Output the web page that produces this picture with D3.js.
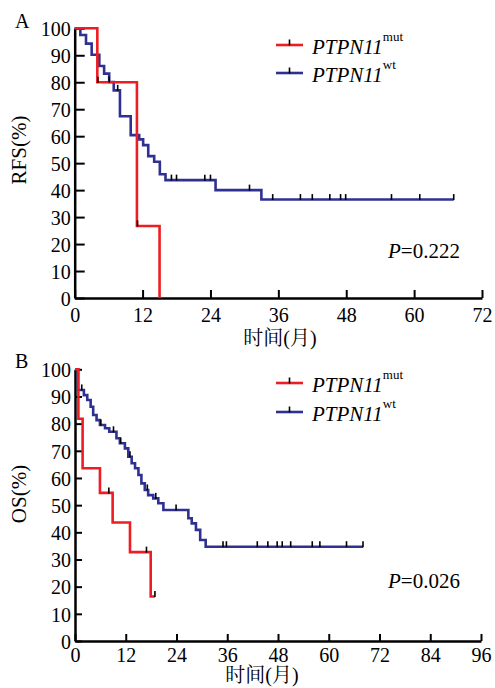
<!DOCTYPE html>
<html>
<head>
<meta charset="utf-8">
<script src="https://cdn.jsdelivr.net/npm/d3@7"></script>
<style>
  html, body { margin: 0; padding: 0; background: #fff; }
  svg { display: block; }
</style>
</head>
<body>
<svg id="chart" width="495" height="688"></svg>
<script>
// ---------------- data ----------------
const survivalTicks = [0, 10, 20, 30, 40, 50, 60, 70, 80, 90, 100];
const monthTicksA = [0, 12, 24, 36, 48, 60, 72];
const monthTicksB = [0, 12, 24, 36, 48, 60, 72, 84, 96];
const panelLabels = ["A", "B"];
const yTitles = ["RFS(%)", "OS(%)"];
const xTitleParts = ["时间", "(", "月", ")"];
const seriesNames = ["PTPN11", "PTPN11"];
const seriesSups = ["mut", "wt"];
const pValues = ["0.222", "0.026"];

// Panel A (RFS) - mutant
const rfsMutTimes = [0, 4.0, 11.0, 15.0];
const rfsMutSurv  = [100, 80, 26.7, 0];
const rfsMutEnd = 15.0;
const rfsMutCensor = [4.1, 11.1];
// Panel A (RFS) - wild type
const rfsWtTimes = [0, 1.0, 2.0, 3.0, 4.35, 5.2, 6.1, 6.9, 8.0, 9.9, 11.4, 12.1, 13.0, 14.05, 15.05, 16.05, 24.9, 33.0];
const rfsWtSurv  = [100, 97.5, 94.3, 90.2, 86.0, 83.2, 80.1, 77.0, 67.4, 60.4, 58.8, 56.7, 52.6, 50.5, 45.9, 43.7, 40.0, 36.5];
const rfsWtEnd = 67.0;
const rfsWtCensor = [6.1, 7.6, 17.1, 18.0, 23.0, 24.0, 30.9, 35.0, 39.9, 42.0, 45.1, 47.0, 47.9, 56.0, 61.0, 67.0];

// Panel B (OS) - mutant
const osMutTimes = [0, 0.8, 1.8, 5.9, 8.9, 13.0, 17.9];
const osMutSurv  = [100, 81.8, 63.6, 54.5, 43.6, 32.7, 16.4];
const osMutEnd = 18.9;
const osMutCensor = [8.0, 16.9, 18.9];
// Panel B (OS) - wild type
const osWtTimes = [0, 0.7, 2.1, 2.9, 3.7, 4.3, 5.1, 5.9, 7.1, 8.1, 9.8, 10.6, 11.8, 12.6, 13.4, 14.2, 15.0, 15.7, 16.5, 17.3, 18.5, 19.7, 20.9, 26.8, 27.6, 28.6, 29.6, 30.9];
const osWtSurv  = [100, 92.4, 90.5, 88.7, 86.2, 83.2, 81.3, 79.5, 78.3, 77.0, 74.6, 72.8, 70.9, 67.8, 65.4, 63.6, 61.1, 58.0, 55.6, 53.7, 52.5, 50.7, 48.2, 45.2, 43.3, 40.9, 37.2, 34.7];
const osWtEnd = 68.1;
const osWtCensor = [1.6, 6.1, 9.1, 10.8, 13.0, 17.1, 19.1, 23.9, 35.0, 35.8, 43.1, 45.6, 47.8, 49.0, 51.0, 56.1, 57.9, 64.2, 68.1];

// ---------------- styles ----------------
const RED = "#ee1d23";
const BLUE = "#2e3192";
const SERIF = "'Liberation Serif'";
const CJK = "'Noto Serif CJK SC'";

const svg = d3.select("#chart");

function serifText(sel, size) {
  return sel.attr("font-family", "Liberation Serif").style("font-family", SERIF)
    .style("font-size", size + "px").attr("fill", "#000");
}
function stepData(times, surv, end) {
  const pts = times.map((t, i) => ({ t, s: surv[i] }));
  const last = pts[pts.length - 1];
  if (end > last.t) pts.push({ t: end, s: last.s });
  return pts;
}
function survAt(times, surv, c) {
  let v = surv[0];
  for (let i = 0; i < times.length; i++) if (times[i] <= c) v = surv[i];
  return v;
}

function drawPanel(cfg) {
  const g = svg.append("g");
  const x = d3.scaleLinear().domain([0, cfg.xMax]).range(cfg.xRange);
  const y = d3.scaleLinear().domain([0, 100]).range(cfg.yRange);

  // axes
  const yAxis = d3.axisLeft(y).tickValues(survivalTicks).tickSizeInner(-cfg.yTickLen).tickSizeOuter(0).tickPadding(4);
  const xAxis = d3.axisBottom(x).tickValues(cfg.xTicks).tickSizeInner(-cfg.xTickLen).tickSizeOuter(0).tickPadding(cfg.xPad);

  const gy = g.append("g").attr("transform", `translate(${cfg.xRange[0]},0)`).call(yAxis);
  const gx = g.append("g").attr("transform", `translate(0,${cfg.yRange[0]})`).call(xAxis);
  [gx, gy].forEach(a => {
    a.attr("font-family", "Liberation Serif").attr("font-size", 20);
    a.select(".domain").attr("stroke", "#000").attr("stroke-width", 2.5);
    a.selectAll(".tick line").attr("stroke", "#000").attr("stroke-width", 2);
    serifText(a.selectAll(".tick text"), 20);
  });
  gy.selectAll(".tick text").attr("dy", "0.36em");

  const line = d3.line().x(d => x(d.t)).y(d => y(d.s)).curve(d3.curveStepAfter);

  // curves: wild type first, mutant on top
  cfg.drawOrder.forEach(k => {
    const s = cfg.series[k];
    g.append("path")
      .datum(stepData(s.times, s.surv, s.end))
      .attr("fill", "none")
      .attr("stroke", s.color)
      .attr("stroke-width", 2.6)
      .attr("d", line);
  });
  cfg.series.forEach(s => {
    g.selectAll(null).data(s.censor).enter().append("line")
      .attr("x1", c => x(c)).attr("x2", c => x(c))
      .attr("y1", c => y(survAt(s.times, s.surv, c)) - 5.5)
      .attr("y2", c => y(survAt(s.times, s.surv, c)) + 0.5)
      .attr("stroke", "#000").attr("stroke-width", 1.6);
  });

  // legend (mut first, wt second)
  cfg.series.forEach((s, i) => {
    const ly = cfg.legendY + i * cfg.legendGap;
    g.append("line").attr("x1", 276).attr("x2", 303).attr("y1", ly).attr("y2", ly)
      .attr("stroke", s.color).attr("stroke-width", 2.6);
    g.append("line").attr("x1", 289.5).attr("x2", 289.5).attr("y1", ly - 5.5).attr("y2", ly + 0.5)
      .attr("stroke", "#000").attr("stroke-width", 1.6);
    const t = serifText(g.append("text").attr("x", 312).attr("y", ly + 9), 21);
    t.append("tspan").style("font-style", "italic").text(seriesNames[i]);
    t.append("tspan").style("font-size", "13px").attr("dy", -13).text(seriesSups[i]);
  });

  // p value
  const pt = serifText(g.append("text").attr("x", 388).attr("y", cfg.pY), 21);
  pt.append("tspan").style("font-style", "italic").text("P");
  pt.append("tspan").text("=" + cfg.p);

  // titles
  serifText(g.append("text").attr("x", 15).attr("y", cfg.labelY), 20).text(cfg.label);
  serifText(g.append("text").attr("transform", `translate(${cfg.yTitleX},${cfg.yTitleY}) rotate(-90)`)
    .attr("text-anchor", "middle"), 21).text(cfg.yTitle);
  const xt = serifText(g.append("text").attr("x", cfg.xTitleX).attr("y", cfg.xTitleY).attr("text-anchor", "middle"), 20);
  xTitleParts.forEach((p, i) => {
    const sp = xt.append("tspan").text(p);
    if (i % 2 === 0) sp.style("font-family", CJK);
  });
}

drawPanel({
  xMax: 72, xRange: [74.7, 482], yRange: [298, 28.3], xTicks: monthTicksA,
  yTickLen: 10, xTickLen: 8, xPad: 10,
  series: [
    { times: rfsMutTimes, surv: rfsMutSurv, end: rfsMutEnd, censor: rfsMutCensor, color: RED },
    { times: rfsWtTimes, surv: rfsWtSurv, end: rfsWtEnd, censor: rfsWtCensor, color: BLUE }
  ],
  drawOrder: [1, 0],
  legendY: 45, legendGap: 28, pY: 258, p: pValues[0],
  label: panelLabels[0], labelY: 28, yTitle: yTitles[0], yTitleX: 26, yTitleY: 150,
  xTitleX: 280, xTitleY: 345
});

drawPanel({
  xMax: 96, xRange: [75, 481], yRange: [641, 369.3], xTicks: monthTicksB,
  yTickLen: 7, xTickLen: 7, xPad: 7,
  series: [
    { times: osMutTimes, surv: osMutSurv, end: osMutEnd, censor: osMutCensor, color: RED },
    { times: osWtTimes, surv: osWtSurv, end: osWtEnd, censor: osWtCensor, color: BLUE }
  ],
  drawOrder: [1, 0],
  legendY: 383, legendGap: 29, pY: 588, p: pValues[1],
  label: panelLabels[1], labelY: 368, yTitle: yTitles[1], yTitleX: 26, yTitleY: 494,
  xTitleX: 262, xTitleY: 682
});
</script>
</body>
</html>
